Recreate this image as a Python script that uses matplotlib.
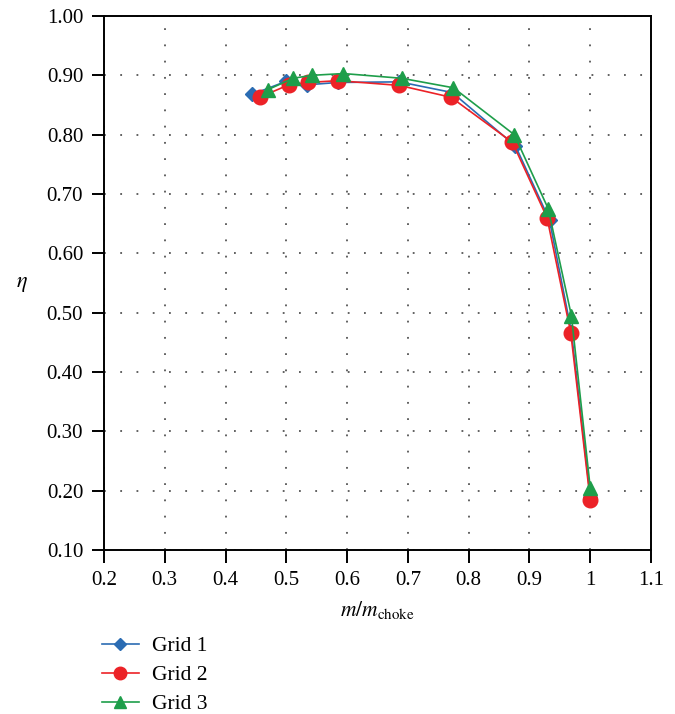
import matplotlib
matplotlib.use("Agg")
import matplotlib.pyplot as plt
from matplotlib.lines import Line2D

plt.rcParams['font.family'] = ['Liberation Serif', 'DejaVu Serif']
plt.rcParams['mathtext.fontset'] = 'stix'

# Data
grid1_x = [0.444, 0.500, 0.534, 0.585, 0.686, 0.773, 0.877, 0.933, 0.969, 1.000]
grid1_y = [0.868, 0.890, 0.884, 0.888, 0.889, 0.871, 0.781, 0.656, 0.468, 0.190]
grid2_x = [0.456, 0.504, 0.536, 0.585, 0.686, 0.771, 0.872, 0.929, 0.968, 1.000]
grid2_y = [0.863, 0.884, 0.888, 0.891, 0.883, 0.863, 0.787, 0.660, 0.466, 0.184]
grid3_x = [0.470, 0.511, 0.542, 0.594, 0.690, 0.775, 0.875, 0.931, 0.969, 1.000]
grid3_y = [0.876, 0.895, 0.900, 0.903, 0.895, 0.879, 0.800, 0.675, 0.495, 0.205]
labels = ["Grid 1", "Grid 2", "Grid 3"]

x_ticks = [0.2, 0.3, 0.4, 0.5, 0.6, 0.7, 0.8, 0.9, 1.0, 1.1]
x_ticklabels = ["0.2", "0.3", "0.4", "0.5", "0.6", "0.7", "0.8", "0.9", "1", "1.1"]
y_ticks = [0.1, 0.2, 0.3, 0.4, 0.5, 0.6, 0.7, 0.8, 0.9, 1.0]

c_blue = "#2b6cb3"
c_red = "#ec2227"
c_green = "#1e9e4a"

fig = plt.figure(figsize=(6.75, 7.14), dpi=100)
ax = fig.add_axes([104/675, 1-550/714, (651-104)/675, (550-16)/714])

ax.plot(grid1_x, grid1_y, color=c_blue, lw=1.2, marker='D', ms=7.5, zorder=3)
ax.plot(grid2_x, grid2_y, color=c_red, lw=1.2, marker='o', ms=10.5, zorder=4)
ax.plot(grid3_x, grid3_y, color=c_green, lw=1.2, marker='^', ms=10.5, zorder=5)

ax.set_xlim(0.2, 1.1)
ax.set_ylim(0.1, 1.0)
ax.set_xticks(x_ticks)
ax.set_xticklabels(x_ticklabels)
ax.set_yticks(y_ticks)
ax.set_yticklabels([f"{v:.2f}" for v in y_ticks])
ax.grid(True, color="#555555", linestyle=(0, (1, 8)), lw=1.3)
ax.tick_params(direction='out', length=9, width=1.4, labelsize=15, pad=6, colors='black')
for s in ax.spines.values():
    s.set_linewidth(1.4)

fig.text(377/675, 1-610/714, r'$m/m_{\mathrm{choke}}$', ha='center', va='center', fontsize=15.5)
fig.text(22/675, 1-285/714, r'$\eta$', ha='center', va='center', fontsize=16)

handles = [
    Line2D([], [], color=c_blue, lw=1.2, marker='D', ms=6),
    Line2D([], [], color=c_red, lw=1.2, marker='o', ms=9),
    Line2D([], [], color=c_green, lw=1.2, marker='^', ms=9),
]
fig.legend(handles, labels, loc='upper left', bbox_to_anchor=(102/675, 1-636/714),
           frameon=False, fontsize=15.5, handlelength=1.7, labelspacing=0.42,
           handletextpad=0.6, borderaxespad=0, borderpad=0)

fig.savefig("out.png", dpi=100)
